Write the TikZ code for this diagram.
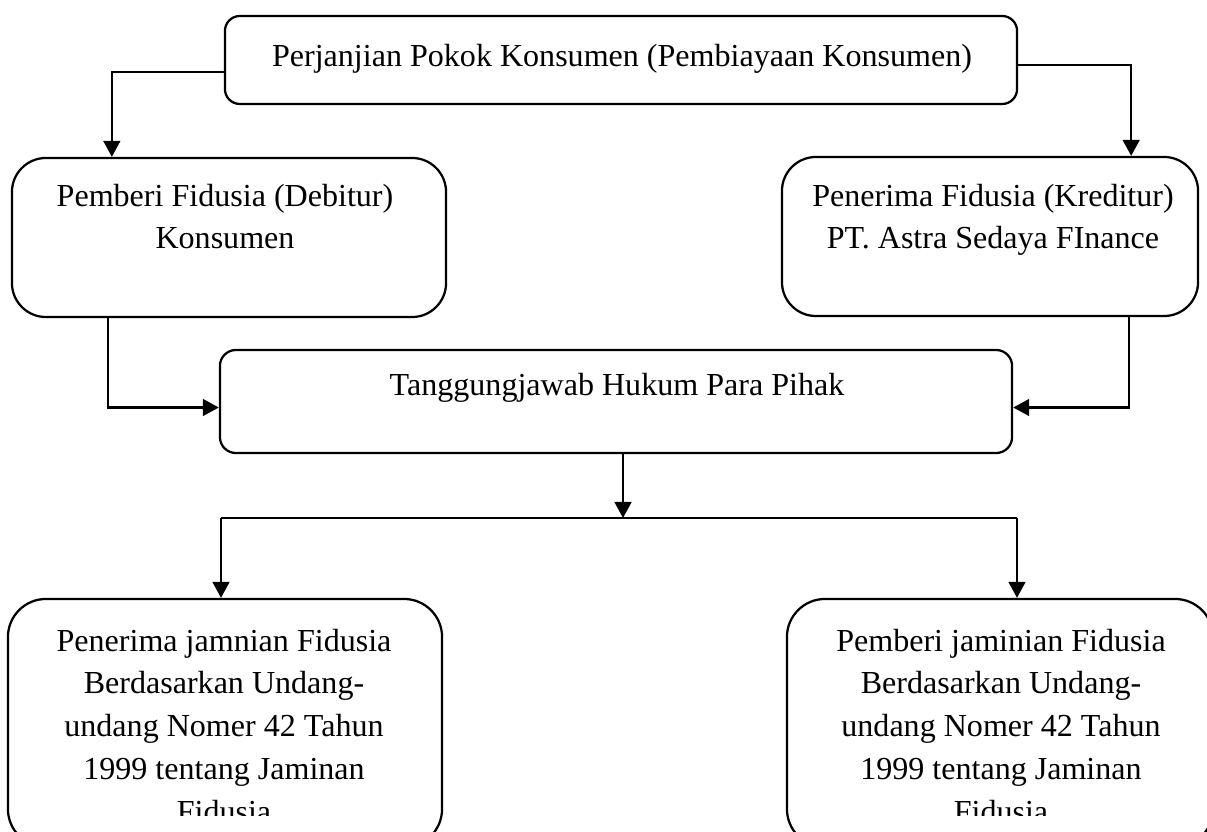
\documentclass[tikz,border=0pt]{standalone}
\usepackage{fontspec}
\setmainfont{Liberation Serif}
\usetikzlibrary{arrows.meta}

\tikzset{
    box/.style={draw, line width=1.6pt, inner sep=0pt},
    label text/.style={align=center, anchor=base, inner sep=0pt,
        font=\fontsize{22.8}{30.4}\selectfont},
    arrow/.style={line width=1.6pt, -{Triangle[length=0.4cm,width=0.42cm]}}
}

\begin{document}
\begin{tikzpicture}[x=0.025cm, y=-0.025cm]
    \useasboundingbox (0,0) rectangle (1207,832);

% boxes
    \node[box, rounded corners=0.375cm, minimum width=19.8cm, minimum height=2.2cm]
        (pokok) at (621,60) {};
    \node[box, rounded corners=0.85cm, minimum width=10.85cm, minimum height=3.975cm]
        (pemberi) at (229,237.5) {};
    \node[box, rounded corners=0.85cm, minimum width=10.4cm, minimum height=3.975cm]
        (penerima) at (990,236.5) {};
    \node[box, rounded corners=0.4cm, minimum width=19.8cm, minimum height=2.575cm]
        (tanggung) at (616,401.5) {};
    \node[box, rounded corners=0.95cm, minimum width=10.85cm, minimum height=6.2cm]
        (jamkiri) at (225,723) {};
    \node[box, rounded corners=0.95cm, minimum width=10.65cm, minimum height=6.2cm]
        (jamkanan) at (1000,723) {};

% texts (base = last line)
    \node[label text] (pokok text) at (622,67)
        {Perjanjian Pokok Konsumen (Pembiayaan Konsumen)};
    \node[label text] (pemberi text) at (225,249)
        {Pemberi Fidusia (Debitur)\\Konsumen};
    \node[label text] (penerima text) at (993,249)
        {Penerima Fidusia (Kreditur)\\PT. Astra Sedaya FInance};
    \node[label text] (tanggung text) at (617,396)
        {Tanggungjawab Hukum Para Pihak};
    \begin{scope}
        \clip (0,0) rectangle (1207,815);
        \node[label text] (jamkiri text) at (224,822)
            {Penerima jamnian Fidusia\\Berdasarkan Undang-\\undang Nomer 42 Tahun\\1999 tentang Jaminan\\Fidusia};
        \node[label text] (jamkanan text) at (1001,822)
            {Pemberi jaminian Fidusia\\Berdasarkan Undang-\\undang Nomer 42 Tahun\\1999 tentang Jaminan\\Fidusia};
    \end{scope}

% connectors
    \draw[arrow] ([yshift=-0.3cm]pokok.west) -| ([xshift=2.525cm]pemberi.north west);
    \draw[arrow] ([yshift=-0.125cm]pokok.east) -| ([xshift=-1.7cm]penerima.north east);
    \draw[arrow] ([xshift=2.425cm]pemberi.south west) |- ([yshift=-0.15cm]tanggung.west);
    \draw[arrow] ([xshift=-1.75cm]penerima.south east) |- ([yshift=-0.15cm]tanggung.east);

% branch
    \coordinate (cabang) at (623,518);
    \coordinate (cabang kiri) at (221,518);
    \coordinate (cabang kanan) at (1017,518);
    \draw[arrow] (tanggung.south -| cabang) -- (cabang);
    \draw[line width=1.6pt] (cabang kiri) -- (cabang kanan);
    \draw[arrow] (cabang kiri) -- (cabang kiri |- jamkiri.north);
    \draw[arrow] (cabang kanan) -- (cabang kanan |- jamkanan.north);
\end{tikzpicture}
\end{document}
